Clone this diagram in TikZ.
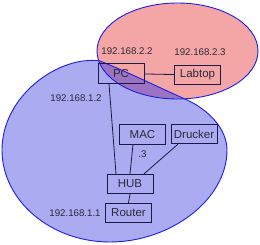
\documentclass[tikz,border=0pt]{standalone}
\usepackage{fontspec}
\setmainfont{Liberation Sans}
\begin{document}
\begin{tikzpicture}[x=1pt,y=-1pt,
  box/.style={draw=boxline,line width=0.8pt,minimum width=46pt,minimum height=19.5pt,inner sep=0pt,font=\fontsize{11.5}{12}\selectfont,text=txt},
  lbl/.style={inner sep=0pt,font=\fontsize{9.7}{10}\selectfont,text=txt},
  wire/.style={draw=boxline,line width=0.8pt},
  outline/.style={draw=rimblue,line width=0.9pt}]
\definecolor{pinkfill}{HTML}{F4A6A6}
\definecolor{bluefill}{HTML}{ABABF2}
\definecolor{overlap}{HTML}{9C72C2}
\definecolor{rimblue}{HTML}{1E1EE6}
\definecolor{boxline}{HTML}{1A1A48}
\definecolor{txt}{HTML}{2A2A3A}
\useasboundingbox (0,0) rectangle (260,244);
\fill[white] (0,0) rectangle (260,244);
\def\blob{(100,61) .. controls (130,73) and (160,88) .. (185,99)
  .. controls (210,110) and (227,130) .. (227,150)
  .. controls (227,200) and (170,242) .. (110,242)
  .. controls (50,242) and (2,200) .. (2,150)
  .. controls (2,95) and (60,55) .. (100,61) -- cycle}
\fill[pinkfill] (177.5,51) ellipse [x radius=80.5, y radius=48];
\fill[bluefill] \blob;
\begin{scope}
  \clip \blob;
  \fill[overlap] (177.5,51) ellipse [x radius=80.5, y radius=48];
\end{scope}
\draw[outline] (177.5,51) ellipse [x radius=80.5, y radius=48];
\draw[outline] \blob;
% nodes
\node[box] (pc) at (121,73.5) {PC};
\node[box] (lab) at (197.5,75) {Labtop};
\node[box] (mac) at (142.5,134.5) {MAC};
\node[box] (dru) at (194,134) {Drucker};
\node[box] (hub) at (130,184) {HUB};
\node[box] (rou) at (128.5,213) {Router};
% labels
\node[lbl] (l22) at (127,51) {192.168.2.2};
\node[lbl] (l23) at (200,52.5) {192.168.2.3};
\node[lbl] (l12) at (76,98) {192.168.1.2};
\node[lbl] (l11) at (75,213) {192.168.1.1};
\node[lbl] (l3) at (142.5,154.5) {.3};
% connectors
\draw[wire] (pc) -- (lab);
\draw[wire] ([xshift=-12pt]pc.south) -- ([xshift=-14pt]hub.north);
\draw[wire] ([xshift=-9.5pt]mac.south) -- (hub.north);
\draw[wire] ([xshift=-16pt]dru.south) -- ([xshift=14pt]hub.north);
\draw[wire] (hub.south) -- (rou.north);
\end{tikzpicture}
\end{document}
